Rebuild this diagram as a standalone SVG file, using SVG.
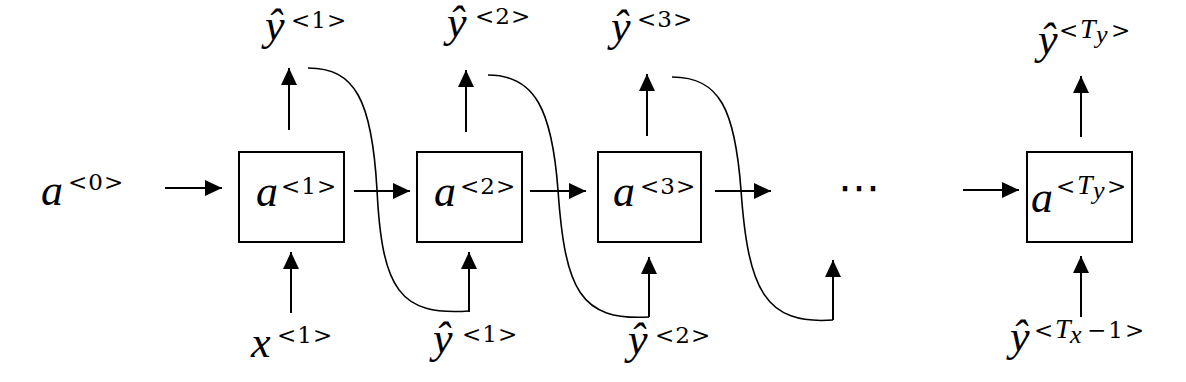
<svg xmlns="http://www.w3.org/2000/svg" width="1186" height="382" viewBox="0 0 1186 382">
<defs>
<marker id="ah" markerUnits="userSpaceOnUse" markerWidth="18" markerHeight="16" refX="17" refY="8" orient="auto">
<path d="M0,0 L17,8 L0,16 Z" fill="#000"/>
</marker>
</defs>
<g id="connectors" fill="none" stroke="#000" stroke-width="2">
<path d="M165,188 H222" marker-end="url(#ah)"/>
<path d="M354,191 H410" marker-end="url(#ah)"/>
<path d="M530,191 H586" marker-end="url(#ah)"/>
<path d="M715,191 H771" marker-end="url(#ah)"/>
<path d="M963,190 H1019" marker-end="url(#ah)"/>
<path d="M289,130 V68" marker-end="url(#ah)"/>
<path d="M466,132 V70" marker-end="url(#ah)"/>
<path d="M647,136 V74" marker-end="url(#ah)"/>
<path d="M1081,137 V76" marker-end="url(#ah)"/>
<path d="M291,313 V252" marker-end="url(#ah)"/>
<path d="M469,312 V252" marker-end="url(#ah)"/>
<path d="M649,317 V257" marker-end="url(#ah)"/>
<path d="M833,320 V260" marker-end="url(#ah)"/>
<path d="M1081,317 V256" marker-end="url(#ah)"/>
<path stroke-width="1.6" d="M308,68 C355,68 372,100 377,190 C382,290 400,316 469,311"/>
<path stroke-width="1.6" d="M488,75 C535,75 552,110 558,190 C565,290 580,321 649,317"/>
<path stroke-width="1.6" d="M672,77 C720,77 735,110 741,190 C748,290 765,325 833,320"/>
</g>
<g id="a0">
<text x="41" y="205" style="font-family:'Liberation Serif';font-style:italic;font-size:44px">a</text>
<text x="68" y="190" style="font-family:'DejaVu Serif';font-style:normal;font-size:23px;letter-spacing:1px">&lt;0&gt;</text>
</g>
<g id="cell1"><rect x="239" y="152" width="105" height="90" fill="#fff" stroke="#000" stroke-width="2"/>
<text x="256" y="206" style="font-family:'Liberation Serif';font-style:italic;font-size:44px">a</text>
<text x="281" y="194" style="font-family:'DejaVu Serif';font-style:normal;font-size:23px;letter-spacing:1px">&lt;1&gt;</text>
</g>
<g id="cell2"><rect x="417" y="152" width="105" height="90" fill="#fff" stroke="#000" stroke-width="2"/>
<text x="434" y="206" style="font-family:'Liberation Serif';font-style:italic;font-size:44px">a</text>
<text x="460" y="194" style="font-family:'DejaVu Serif';font-style:normal;font-size:23px;letter-spacing:1px">&lt;2&gt;</text>
</g>
<g id="cell3"><rect x="598" y="152" width="103" height="90" fill="#fff" stroke="#000" stroke-width="2"/>
<text x="613" y="206" style="font-family:'Liberation Serif';font-style:italic;font-size:44px">a</text>
<text x="640" y="194" style="font-family:'DejaVu Serif';font-style:normal;font-size:23px;letter-spacing:1px">&lt;3&gt;</text>
</g>
<g id="cellT"><rect x="1027" y="152" width="105" height="90" fill="#fff" stroke="#000" stroke-width="2"/>
<text x="1031" y="212" style="font-family:'Liberation Serif';font-style:italic;font-size:44px">a</text>
<text x="1056" y="194" style="font-family:'DejaVu Serif';font-size:23px">&lt;</text>
<text x="1077" y="194" style="font-family:'Liberation Serif';font-style:italic;font-size:28px">T</text>
<text x="1093" y="199" style="font-family:'Liberation Serif';font-style:italic;font-size:26px">y</text>
<text x="1107" y="194" style="font-family:'DejaVu Serif';font-size:23px">&gt;</text>
</g>
<g id="dots"><text x="859" y="202" text-anchor="middle" style="font-family:'DejaVu Sans';font-size:42px">⋯</text></g>
<g id="yhat1_out">
<text x="265" y="40" style="font-family:'Liberation Serif';font-style:italic;font-size:44px">ŷ</text>
<text x="291" y="28" style="font-family:'DejaVu Serif';font-style:normal;font-size:23px;letter-spacing:1px">&lt;1&gt;</text>
</g>
<g id="yhat2_out">
<text x="447" y="37" style="font-family:'Liberation Serif';font-style:italic;font-size:44px">ŷ</text>
<text x="475" y="24" style="font-family:'DejaVu Serif';font-style:normal;font-size:23px;letter-spacing:1px">&lt;2&gt;</text>
</g>
<g id="yhat3_out">
<text x="611" y="41" style="font-family:'Liberation Serif';font-style:italic;font-size:44px">ŷ</text>
<text x="637" y="27" style="font-family:'DejaVu Serif';font-style:normal;font-size:23px;letter-spacing:1px">&lt;3&gt;</text>
</g>
<g id="yhatT_out">
<text x="1038" y="54" style="font-family:'Liberation Serif';font-style:italic;font-size:44px">ŷ</text>
<text x="1059" y="38" style="font-family:'DejaVu Serif';font-size:23px">&lt;</text>
<text x="1080" y="38" style="font-family:'Liberation Serif';font-style:italic;font-size:28px">T</text>
<text x="1096" y="43" style="font-family:'Liberation Serif';font-style:italic;font-size:26px">y</text>
<text x="1111" y="38" style="font-family:'DejaVu Serif';font-size:23px">&gt;</text>
</g>
<g id="x1_in">
<text x="251" y="357" style="font-family:'Liberation Serif';font-style:italic;font-size:44px">x</text>
<text x="277" y="343" style="font-family:'DejaVu Serif';font-style:normal;font-size:23px;letter-spacing:1px">&lt;1&gt;</text>
</g>
<g id="yhat1_in">
<text x="433" y="353" style="font-family:'Liberation Serif';font-style:italic;font-size:44px">ŷ</text>
<text x="462" y="342" style="font-family:'DejaVu Serif';font-style:normal;font-size:23px;letter-spacing:1px">&lt;1&gt;</text>
</g>
<g id="yhat2_in">
<text x="628" y="354" style="font-family:'Liberation Serif';font-style:italic;font-size:44px">ŷ</text>
<text x="655" y="343" style="font-family:'DejaVu Serif';font-style:normal;font-size:23px;letter-spacing:1px">&lt;2&gt;</text>
</g>
<g id="yhatTx_in">
<text x="1010" y="351" style="font-family:'Liberation Serif';font-style:italic;font-size:44px">ŷ</text>
<text x="1034" y="338" style="font-family:'DejaVu Serif';font-size:23px">&lt;</text>
<text x="1055" y="338" style="font-family:'Liberation Serif';font-style:italic;font-size:28px">T</text>
<text x="1070" y="343" style="font-family:'Liberation Serif';font-style:italic;font-size:26px">x</text>
<text x="1087" y="338" style="font-family:'DejaVu Serif';font-size:23px;letter-spacing:2px">−1&gt;</text>
</g>
</svg>
